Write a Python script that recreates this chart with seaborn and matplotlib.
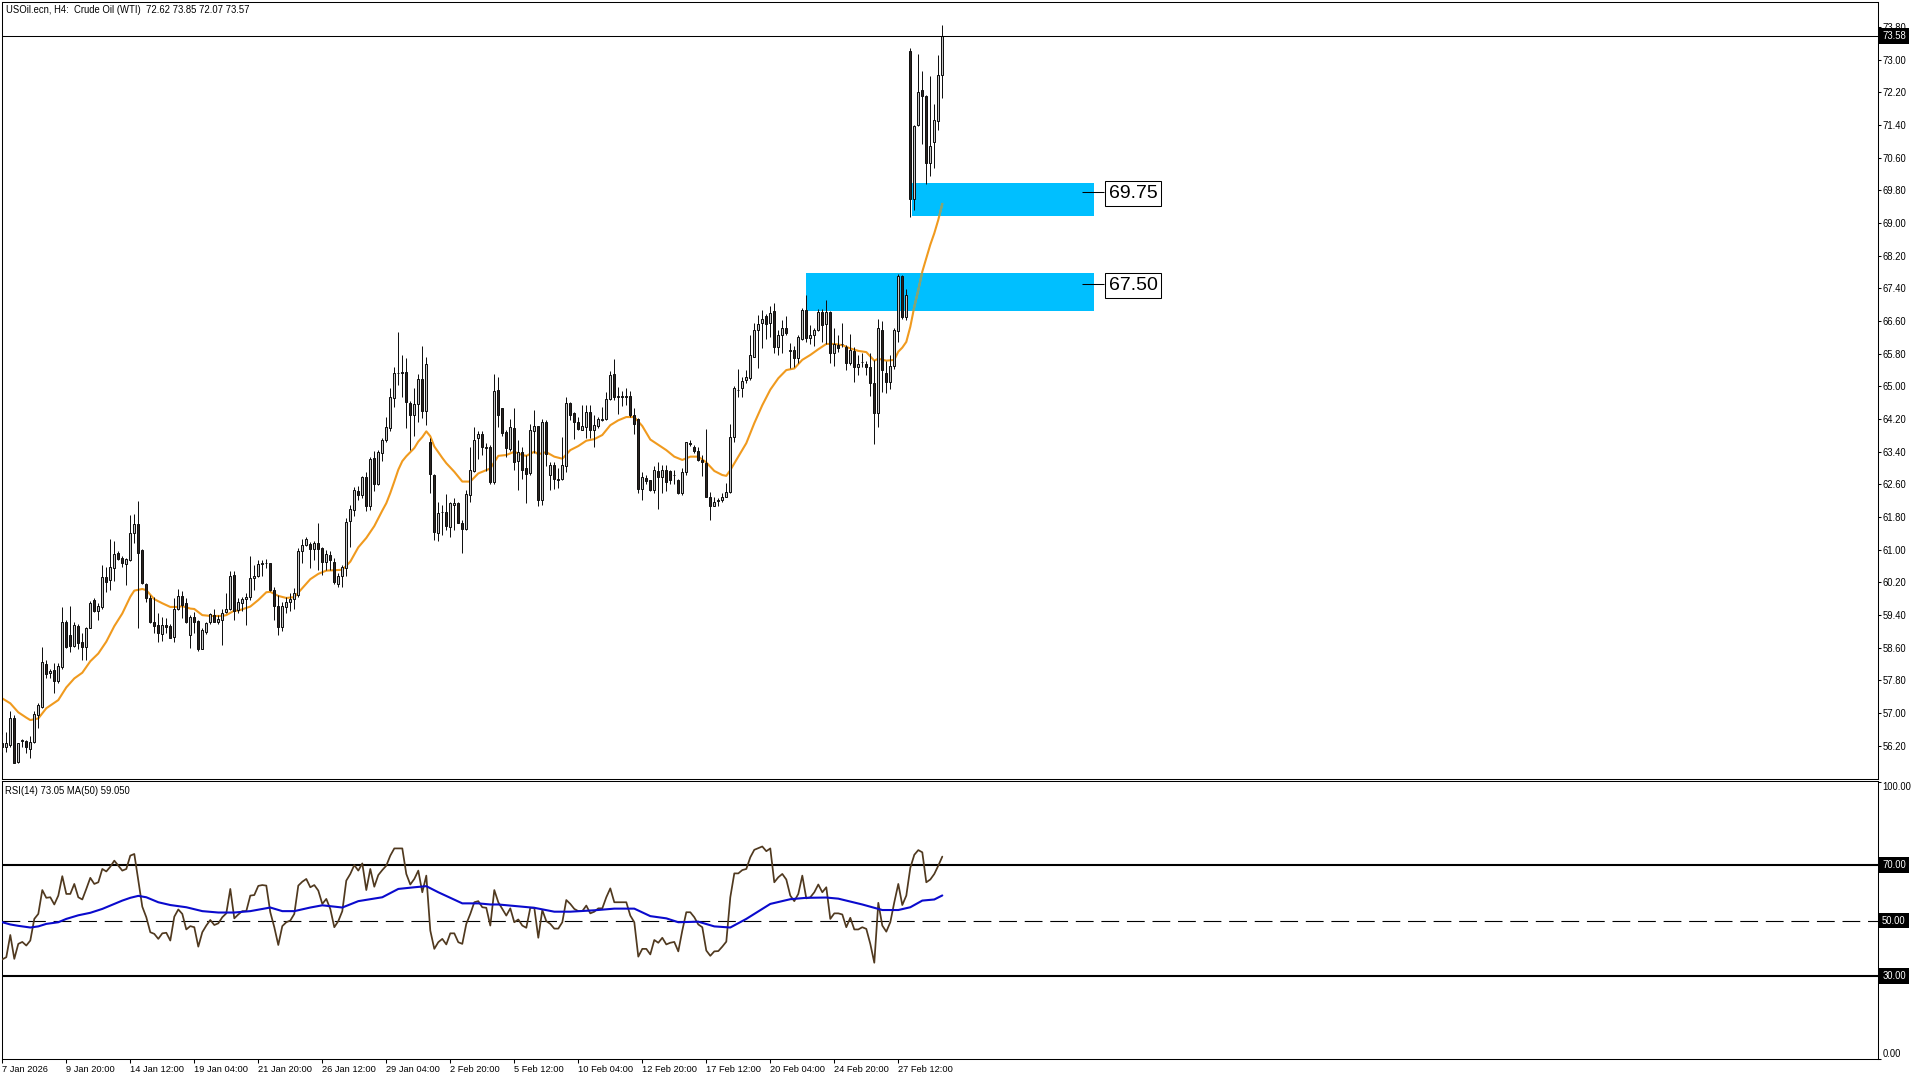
import matplotlib
matplotlib.use('Agg')
import matplotlib.pyplot as plt
from matplotlib.patches import Rectangle
import numpy as np
import pandas as pd
import seaborn as sns

# H4 candles
opens = [56.28,56.18,56.22,56.87,55.80,56.31,56.32,56.13,56.30,56.95,
         57.16,58.20,57.99,58.05,57.79,58.13,59.23,58.92,58.65,59.13,
         58.73,58.61,59.09,59.77,59.51,59.60,60.33,60.25,60.56,60.91,
         60.79,60.66,60.75,61.40,61.62,60.99,60.16,59.83,59.22,59.16,
         58.94,59.16,59.13,58.87,59.54,59.86,59.69,58.92,59.35,59.26,
         58.58,58.99,59.22,59.40,59.23,59.28,59.47,59.55,60.38,59.52,
         59.69,59.79,59.84,60.30,60.35,60.66,60.68,60.67,60.01,59.63,
         59.10,59.61,59.73,59.79,59.89,60.96,61.11,61.14,61.03,61.16,
         61.04,60.70,60.88,60.69,60.17,60.35,60.55,61.71,61.98,62.43,
         62.34,62.78,62.06,63.24,62.61,63.36,63.68,63.99,64.72,65.32,
         65.35,65.35,64.60,64.29,64.56,65.18,64.41,63.64,62.82,61.40,
         61.92,61.92,61.55,62.09,62.14,61.65,61.50,62.35,62.93,63.73,
         63.83,63.50,63.51,62.66,64.91,64.46,63.89,63.47,63.97,63.18,
         63.40,62.99,62.87,63.91,64.02,62.23,64.12,62.83,63.07,62.74,
         62.74,63.05,64.60,64.34,64.14,63.93,64.01,64.37,63.94,64.03,
         64.17,64.21,64.68,65.30,64.73,64.77,64.77,64.77,64.30,64.20,
         62.48,62.75,62.70,62.47,62.94,62.78,62.96,62.92,62.83,62.72,
         62.38,62.91,63.62,63.51,63.43,63.21,63.13,62.28,62.08,62.20,
         62.22,62.30,62.42,63.75,64.92,64.97,65.16,65.20,65.73,66.39,
         66.55,66.73,66.55,66.84,65.97,66.26,66.44,65.88,65.89,65.70,
         66.17,66.87,66.19,66.26,66.39,66.82,66.52,66.83,65.81,66.01,
         66.04,65.97,65.58,65.87,65.48,65.59,65.56,65.48,65.08,64.34,
         66.39,65.32,65.10,65.50,66.36,67.70,66.71,73.22,69.59,71.41,
         72.26,72.11,70.46,70.99,71.49,72.62]
highs = [56.50,56.54,57.05,56.95,56.28,56.37,56.34,56.44,57.05,57.26,
         58.61,58.31,58.09,58.22,58.22,59.60,59.28,59.62,59.24,59.18,
         58.95,59.12,59.75,59.81,59.69,60.63,60.59,61.26,61.21,60.97,
         60.85,60.81,61.85,61.87,62.20,61.01,60.18,59.89,59.85,59.44,
         59.36,59.32,59.18,59.81,60.04,59.98,59.83,59.40,59.48,59.28,
         59.08,59.24,59.46,59.54,59.40,59.56,59.94,60.49,60.49,59.81,
         59.85,59.94,60.85,60.63,60.75,60.75,60.77,60.68,60.10,59.89,
         59.73,59.85,59.94,60.06,61.04,61.26,61.32,61.20,61.22,61.65,
         61.08,61.00,60.96,60.79,60.43,60.63,61.77,62.10,62.53,62.55,
         62.81,62.91,63.27,63.41,63.45,63.73,64.25,64.95,65.47,66.33,
         65.77,65.69,64.65,64.95,65.31,65.99,65.73,63.73,62.85,62.17,
         62.10,62.36,62.18,62.27,62.16,61.73,62.47,63.52,64.00,63.90,
         63.91,63.61,63.57,65.30,65.22,64.48,63.93,64.19,64.46,63.69,
         63.51,63.32,64.09,64.42,64.03,64.19,64.17,63.14,63.14,63.00,
         63.77,64.73,64.62,64.38,64.25,64.54,64.54,64.54,64.30,64.25,
         64.50,64.86,65.38,65.67,64.98,64.88,64.95,64.89,64.46,64.23,
         62.91,62.83,62.72,63.04,63.14,63.08,63.08,62.96,62.96,62.74,
         63.00,63.65,63.70,63.57,63.51,63.32,63.95,62.42,62.28,62.26,
         62.38,62.63,64.08,65.01,65.42,65.24,65.40,66.26,66.56,66.74,
         66.86,66.78,66.97,67.04,66.38,66.62,66.72,66.07,65.99,66.26,
         66.92,67.24,66.50,66.44,66.89,66.89,67.12,66.84,66.42,66.26,
         66.56,66.01,66.28,65.97,65.77,65.81,65.63,65.81,65.65,66.64,
         66.60,65.61,65.77,66.43,67.75,67.73,67.38,73.28,71.40,73.14,
         72.72,72.13,72.60,71.91,73.12,73.85]
lows = [56.06,56.06,56.18,55.77,55.77,56.16,56.02,55.89,56.28,56.64,
        57.12,57.85,57.85,57.50,57.75,58.09,58.60,58.50,58.62,58.56,
        58.31,58.31,59.08,59.47,59.28,59.56,59.96,60.02,60.24,60.75,
        60.59,60.14,60.73,61.17,59.08,60.16,59.73,59.20,58.96,58.74,
        58.77,58.96,58.83,58.74,59.52,59.32,59.20,58.60,58.96,58.52,
        58.56,58.94,59.18,59.22,59.18,58.66,59.46,59.52,59.28,59.44,
        59.49,59.16,59.77,60.02,60.33,60.35,60.55,59.98,59.28,58.92,
        59.00,59.46,59.51,59.54,59.85,60.67,61.10,60.55,60.75,60.51,
        60.39,60.51,60.51,60.15,60.09,60.09,60.35,61.08,61.82,62.22,
        62.26,61.96,61.98,62.45,62.59,63.17,63.65,63.90,64.50,65.04,
        64.75,63.99,63.45,63.79,64.12,64.22,64.06,62.40,61.24,61.22,
        61.36,61.48,61.32,61.48,61.65,60.92,61.48,62.16,62.91,63.22,
        63.31,62.94,62.62,62.62,64.01,63.78,63.28,63.43,62.95,62.46,
        62.74,62.15,62.83,63.36,62.08,62.10,63.05,62.46,62.50,62.52,
        62.72,62.91,64.17,63.71,63.93,63.93,63.73,63.73,63.52,63.97,
        64.15,64.17,64.66,64.66,64.32,64.51,64.54,64.25,63.83,62.38,
        62.23,62.62,62.44,62.38,62.01,62.38,62.44,62.62,62.61,62.36,
        62.35,62.83,63.54,63.38,63.18,62.81,62.28,61.74,62.06,62.06,
        62.18,62.28,62.40,63.63,64.74,64.74,65.08,65.16,65.71,65.44,
        65.93,66.17,66.21,65.83,65.77,65.81,66.26,65.44,65.47,65.57,
        66.13,66.08,66.04,65.99,66.36,66.09,66.05,65.58,65.50,65.85,
        65.97,65.40,65.53,65.10,65.28,65.48,65.28,64.76,63.58,64.01,
        64.87,64.84,64.93,65.42,66.08,66.65,66.62,69.14,69.32,71.38,
        70.93,69.95,70.16,70.36,71.28,72.07]
closes = [56.18,56.26,56.87,55.79,56.28,56.34,56.16,56.30,56.97,57.19,
          58.26,57.97,58.04,57.79,58.15,59.22,58.63,58.65,59.15,58.71,
          58.61,59.08,59.69,59.50,59.62,60.33,60.21,60.57,60.89,60.78,
          60.67,60.77,61.42,61.64,60.91,60.18,59.83,59.24,59.14,58.96,
          59.16,59.12,58.85,59.56,59.86,59.64,59.22,59.36,59.22,58.57,
          59.04,59.20,59.42,59.24,59.30,59.46,59.56,60.35,59.51,59.73,
          59.79,59.85,60.31,60.36,60.66,60.68,60.67,60.02,59.63,59.10,
          59.62,59.71,59.79,59.93,60.98,61.11,61.26,61.03,61.16,61.03,
          60.71,60.90,60.75,60.20,60.36,60.58,61.69,62.00,62.46,62.33,
          62.77,62.06,63.23,62.61,63.39,63.69,64.00,64.73,65.33,65.34,
          65.32,64.61,64.29,64.56,65.18,64.41,65.54,62.85,61.43,61.91,
          61.92,61.57,62.15,62.15,61.66,61.51,62.36,62.95,63.69,63.83,
          63.51,63.52,62.65,64.88,64.30,63.87,63.50,64.00,63.16,63.40,
          62.95,62.85,63.93,64.02,62.22,64.12,63.35,63.08,62.73,62.72,
          63.08,64.60,64.30,64.13,63.95,64.02,64.38,63.94,64.05,64.21,
          64.21,64.68,65.28,64.73,64.77,64.73,64.74,64.30,64.07,62.48,
          62.77,62.69,62.47,62.96,62.78,62.96,62.66,62.70,62.82,62.40,
          62.91,63.63,63.58,63.43,63.20,63.14,62.30,62.08,62.18,62.21,
          62.30,62.42,63.76,64.96,64.92,65.14,65.23,65.77,66.39,66.54,
          66.66,66.54,66.80,65.97,66.26,66.42,66.30,65.86,65.70,66.20,
          66.86,66.19,66.25,66.39,66.81,66.51,66.81,65.81,66.05,65.95,
          66.05,65.58,65.89,65.48,65.54,65.60,65.48,65.08,64.34,66.42,
          65.39,65.10,65.50,66.38,67.70,66.71,67.24,69.59,71.38,72.22,
          72.10,70.46,70.88,71.52,72.62,73.57]

# moving average on the price panel, at the bars where it bends
ma_bars = [0,2,4,6,7,9,11,14,16,18,20,22,24,26,28,30,32,33,35,36,38,40,42,44,45,47,48,50,52,55,56,58,
           59,62,64,66,67,69,71,73,75,77,79,81,83,85,87,89,91,93,95,96,97,98,99,100,101,103,104,105,106,
           107,108,110,111,113,115,117,119,120,122,124,126,128,130,131,133,134,136,138,140,142,144,146,
           148,150,152,154,156,158,160,162,164,166,168,170,172,174,176,178,180,181,182,184,186,188,190,
           192,194,196,198,200,202,204,206,208,210,212,214,216,218,219,221,223,224,225,226,227,228,229,
           230,231,232,233,234,235]
ma_values = [57.36,57.24,57.02,56.89,56.83,56.87,57.12,57.32,57.63,57.85,57.99,58.27,58.46,58.75,59.13,
             59.44,59.85,60.00,60.04,60.01,59.79,59.69,59.60,59.60,59.62,59.56,59.55,59.40,59.38,59.38,
             59.40,59.51,59.51,59.61,59.77,59.96,59.97,59.87,59.82,59.84,60.06,60.28,60.41,60.49,60.50,
             60.51,60.71,61.06,61.29,61.58,61.96,62.14,62.39,62.67,62.96,63.17,63.29,63.49,63.65,63.76,
             63.90,63.78,63.53,63.25,63.12,62.91,62.67,62.67,62.87,62.91,62.99,63.30,63.32,63.40,63.32,
             63.30,63.40,63.34,63.39,63.28,63.23,63.44,63.54,63.67,63.71,63.81,64.05,64.17,64.25,64.25,
             64.03,63.70,63.57,63.44,63.28,63.20,63.28,63.28,63.14,62.93,62.83,62.81,62.95,63.28,63.61,
             64.10,64.54,64.92,65.20,65.40,65.44,65.65,65.77,65.91,66.04,66.04,66.01,65.93,65.87,65.84,
             65.63,65.68,65.63,65.65,65.85,65.95,66.09,66.46,66.95,67.36,67.81,68.14,68.47,68.75,69.08,
             69.47]

# RSI(14), one value per bar
rsi_values = [36.0,36.8,44.8,36.2,41.6,42.3,41.0,42.8,50.6,52.4,61.0,58.2,58.4,55.8,59.0,66.0,59.6,59.6,
              63.2,58.4,57.6,61.4,65.4,63.2,63.8,68.6,67.7,69.4,71.6,69.8,68.0,68.6,73.4,74.0,64.4,55.0,
              51.2,45.8,45.2,43.4,45.4,45.6,42.8,51.4,54.0,52.4,46.8,48.0,47.6,40.6,45.8,48.2,50.2,48.4,
              49.0,51.2,52.6,61.4,50.8,52.2,53.4,53.4,59.0,59.2,62.5,62.8,62.6,53.0,47.6,41.2,48.0,49.4,
              50.0,52.4,62.6,64.0,65.0,62.0,62.8,60.8,56.0,57.8,54.2,47.6,49.8,53.4,64.4,66.8,70.0,68.0,
              70.6,61.0,68.6,62.2,66.4,68.2,69.8,73.4,76.0,76.0,76.0,66.8,63.0,65.0,68.0,60.2,66.2,46.4,
              39.8,42.2,43.4,41.4,45.4,45.4,42.2,41.6,48.8,52.4,56.6,57.0,54.8,54.6,48.2,61.0,56.6,54.2,
              51.8,54.4,49.4,50.4,48.2,47.4,54.6,54.6,43.8,53.8,49.8,48.8,47.1,47.1,49.4,57.4,56.0,54.2,
              53.4,53.4,55.4,52.6,53.2,54.4,54.4,58.4,61.6,56.6,56.6,56.6,56.6,51.8,49.4,37.0,39.8,39.8,
              37.8,43.0,42.0,43.8,41.4,42.0,42.3,38.9,46.4,53.0,53.0,51.2,48.6,47.6,39.2,37.3,38.9,39.0,
              40.6,42.4,58.4,67.0,67.0,68.2,68.6,72.8,75.5,76.1,76.7,75.0,76.0,63.8,65.6,66.8,64.8,59.0,
              57.0,59.6,66.2,58.0,58.4,60.2,63.0,60.2,62.0,50.6,52.6,52.6,52.2,47.6,51.0,46.8,46.8,47.6,
              47.0,41.6,34.8,56.4,48.2,46.0,49.4,56.6,63.2,55.6,59.0,69.0,73.7,75.4,74.6,63.8,64.8,66.8,
              69.8,73.05]

# MA(50) of the RSI, at the bars where it bends
rsi_ma_bars = [0,2,4,7,9,11,14,16,19,22,25,28,30,32,34,36,39,42,46,50,54,58,62,67,70,73,77,80,85,89,95,99,
               103,106,109,112,115,119,122,124,130,133,138,142,148,153,158,162,166,169,174,178,182,186,
               192,197,201,206,209,215,220,224,227,230,233,235]
rsi_ma_values = [49.4,48.6,48.1,47.5,47.9,48.8,49.4,50.6,51.9,52.8,54.2,56.0,57.2,58.2,58.9,58.4,56.6,55.6,
                 54.8,53.4,52.9,52.9,53.4,54.7,53.4,53.4,54.7,55.5,54.7,57.0,58.4,61.4,62.0,62.4,60.2,58.2,
                 56.2,56.2,55.8,55.8,55.0,54.6,53.2,53.2,53.7,54.3,54.3,51.6,50.8,49.4,49.6,47.9,47.5,50.6,
                 56.0,57.7,58.2,58.3,57.9,55.8,53.8,53.8,54.8,57.2,57.6,59.05]

price_ticks = [73.80,73.00,72.20,71.40,70.60,69.80,69.00,68.20,67.40,66.60,65.80,65.00,64.20,63.40,
               62.60,61.80,61.00,60.20,59.40,58.60,57.80,57.00,56.20]
date_ticks = ['7 Jan 2026','9 Jan 20:00','14 Jan 12:00','19 Jan 04:00','21 Jan 20:00','26 Jan 12:00',
              '29 Jan 04:00','2 Feb 20:00','5 Feb 12:00','10 Feb 04:00','12 Feb 20:00','17 Feb 12:00',
              '20 Feb 04:00','24 Feb 20:00','27 Feb 12:00']

last_price = 73.58
zone_marks = [69.75, 67.50]
zone_low = [69.18, 66.85]
zone_high = [69.98, 67.78]
zone_start = [227.4, 200.9]
zone_end = 272.9

sns.set_theme(style='white')
plt.rcParams['font.family'] = ['Liberation Sans', 'DejaVu Sans']
LABEL = 6.85


def px_axes(fig, left, top, right, bottom):
    return fig.add_axes([left / 1920, 1 - bottom / 1080, (right - left) / 1920, (bottom - top) / 1080])


def frame(ax):
    for s in ax.spines.values():
        s.set_linewidth(0.75)
        s.set_color('black')
    ax.set_xlabel('')
    ax.set_ylabel('')


def black_label(ax, value, text):
    ax.annotate(text, xy=(1, value), xycoords=ax.get_yaxis_transform(), xytext=(3.2, 0),
                textcoords='offset points', ha='left', va='center', color='white', fontsize=LABEL, zorder=10,
                annotation_clip=False, bbox=dict(boxstyle='square,pad=0.3', fc='black', ec='black', lw=0))


fig = plt.figure(figsize=(19.2, 10.8), dpi=100, facecolor='white')
ax = px_axes(fig, 2.3, 2.3, 1877.7, 779.3)
ax2 = px_axes(fig, 2.3, 781, 1877.7, 1059.3)

candles = pd.DataFrame({'open': opens, 'high': highs, 'low': lows, 'close': closes})
candles['bar'] = np.arange(len(candles))
up = candles[candles['close'] >= candles['open']]
down = candles[candles['close'] < candles['open']]

# zones under the candles
rects = []
for lo, hi, start in zip(zone_low, zone_high, zone_start):
    r = Rectangle((start, lo), zone_end - start, hi - lo, fc='#00BFFF', ec='none', zorder=1)
    ax.add_patch(r)
    rects.append(r)

sns.lineplot(x=ma_bars, y=ma_values, ax=ax, color='#F09A1E', linewidth=1.5, estimator=None, zorder=2)
# where the average crosses a zone it turns a dull green
for r in rects:
    tint = ax.plot(ma_bars, ma_values, color='#7FA67A', linewidth=1.5, zorder=2.1)[0]
    tint.set_clip_path(r)

ax.vlines(candles['bar'], candles['low'], candles['high'], color='#111111', linewidth=0.72, zorder=3)
ax.bar(up['bar'], up['close'] - up['open'], bottom=up['open'], width=0.5, color='#C4C4C4',
       edgecolor='#111111', linewidth=0.72, zorder=4)
ax.bar(down['bar'], down['close'] - down['open'], bottom=down['open'], width=0.5, color='#2A2320',
       edgecolor='#111111', linewidth=0.72, zorder=4)

ax.axhline(last_price, color='black', linewidth=0.75, zorder=5)

# labels at the right end of the zones
for mark in zone_marks:
    ax.hlines(mark, 269.9, 275.4, color='black', linewidth=0.75, zorder=6)
    ax.text(276.6, mark - 0.02, f'{mark:.2f}', fontsize=14, color='black', ha='left', va='center', zorder=7,
            bbox=dict(boxstyle='square,pad=0.2', fc='white', ec='black', lw=0.75))

ax.set_xlim(0, 468.85)
ax.set_ylim(55.38, 74.405)
ax.set_xticks([])
ax.yaxis.tick_right()
ax.set_yticks(price_ticks)
ax.set_yticklabels([f'{t:.2f}' for t in price_ticks])
ax.tick_params(axis='y', right=True, length=2.5, width=0.75, pad=0.8, labelsize=LABEL, colors='black')
frame(ax)
black_label(ax, last_price, f'{last_price:.2f}')
ax.text(3.9 / 1875.4, 0.9907, 'USOil.ecn, H4:  Crude Oil (WTI)  72.62 73.85 72.07 73.57', transform=ax.transAxes,
        ha='left', va='center', fontsize=LABEL, color='black')

# RSI panel
sns.lineplot(x=np.arange(len(rsi_values)), y=rsi_values, ax=ax2, color='#50391F', linewidth=1.25,
             estimator=None, zorder=3)
sns.lineplot(x=rsi_ma_bars, y=rsi_ma_values, ax=ax2, color='#0A0ACD', linewidth=1.5, estimator=None, zorder=4)
ax2.axhline(70, color='black', linewidth=1.5, zorder=2)
ax2.axhline(30, color='black', linewidth=1.5, zorder=2)
mid = ax2.axhline(50, color='black', linewidth=0.8, dashes=(16, 7), zorder=2)
mid.set_snap(True)

ax2.set_xlim(0, 468.85)
ax2.set_ylim(0, 100.3)
ax2.yaxis.tick_right()
ax2.set_yticks([100, 0])
ax2.set_yticklabels(['100.00', '0.00'])
ax2.tick_params(axis='y', right=True, length=2.5, width=0.75, pad=0.8, labelsize=LABEL, colors='black')
tick_labels = ax2.get_yticklabels()
tick_labels[0].set_va('top')
tick_labels[1].set_va('bottom')
ax2.set_xticks(np.arange(0, 236, 16))
ax2.set_xticklabels(date_ticks, ha='left')
ax2.tick_params(axis='x', bottom=True, length=3, width=0.75, pad=1, labelsize=6.7, colors='black')
frame(ax2)
for level in [70, 50, 30]:
    black_label(ax2, level, f'{level:.2f}')
ax2.text(3 / 1875.4, 0.965, 'RSI(14) 73.05 MA(50) 59.050', transform=ax2.transAxes, ha='left', va='center',
         fontsize=LABEL, color='black')

fig.savefig('out.png', dpi=100, facecolor='white')
